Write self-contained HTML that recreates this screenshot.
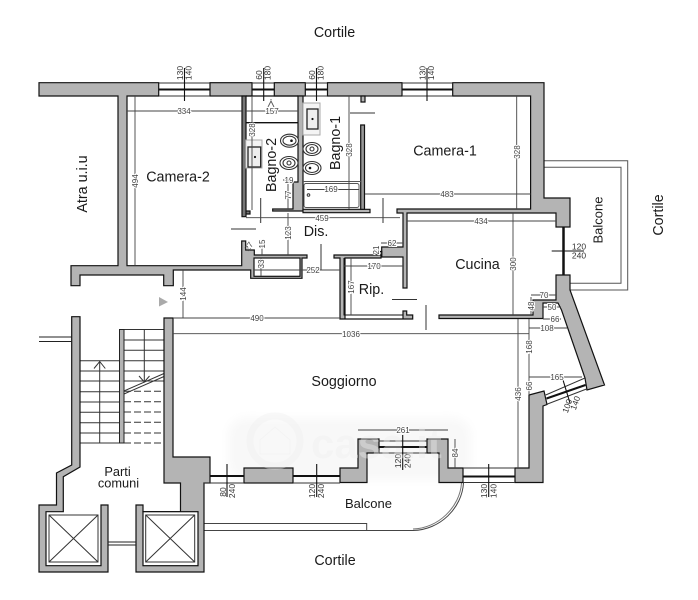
<!DOCTYPE html>
<html><head><meta charset="utf-8">
<style>
html,body{margin:0;padding:0;background:#fff}
svg{display:block;filter:blur(.35px)}
text{font-family:"Liberation Sans",sans-serif}
.l{font-size:14.3px;fill:#1a1a1a;text-anchor:middle}
.d{font-size:8px;fill:#444;text-anchor:middle;paint-order:stroke;stroke:#fff;stroke-width:2px}
.t{font-size:8.5px;fill:#333;text-anchor:middle}
.w{fill:#b4b4b4;stroke:#111;stroke-width:1.2}
.k{fill:none;stroke:#111;stroke-width:1.3}
.n{fill:none;stroke:#444;stroke-width:.9}
.g{fill:none;stroke:#555;stroke-width:.9}
.b{fill:none;stroke:#111;stroke-width:2}
.s{fill:none;stroke:#333;stroke-width:1}
</style></head><body>
<svg width="698" height="600" viewBox="0 0 698 600" xmlns="http://www.w3.org/2000/svg">
<defs><filter id="soft" x="-10%" y="-30%" width="120%" height="160%"><feGaussianBlur stdDeviation="5"/></filter></defs>
<rect width="698" height="600" fill="#fff"/>
<!-- watermark background -->
<rect x="228" y="418" width="243" height="62" rx="18" fill="#f8f8f8" filter="url(#soft)"/>

<!-- balcony right -->
<path d="M544 160.7H627.7V290H570M544 167.3H621V283.3H570" fill="none" stroke="#555" stroke-width="1"/>
<!-- balcony bottom -->
<path d="M204 523.5H366.7V530.5M204 530.5H366.7H413C440 530 462 508 463.500 483" fill="none" stroke="#444" stroke-width="1"/>
<path d="M413 529C438 528.500 460 507 461.500 483" fill="none" stroke="#777" stroke-width="1"/>

<!-- stairs -->
<g stroke="#333" stroke-width="1" fill="none">
<path d="M124 329.5H164M124 340H164M124 350.3H164M124 360.7H164M124 371H164M124 381H164"/>
<path d="M80 360.7H119M80 371H119M80 381H119M80 391.7H119M80 402H119M80 412.3H119M80 422.7H119M80 433H119M80 443H119"/>
<path d="M124 391.3H164M124 401.7H164M124 412H164M124 422.3H164M124 433H164M124 443H164" stroke-dasharray="7 3"/>
<path d="M144.3 329.5V382M99.7 360.7V443M94 368.5L99.7 361.5L105.3 368.5M139 376L144.3 382L149.5 376"/>
<path d="M124 391L164 373.5M124 394L164 376.5"/>
</g>
<rect x="119.5" y="329.5" width="4.5" height="113.5" fill="#b4b4b4" stroke="#222"/>

<!-- outer stair wall / elevator 1 -->
<path class="w" d="M71.7 316.7H80V467L63.3 476.7V511.7H46V565.7H101V505H108V572H39V505H56.5V473L71.7 465Z"/>
<path d="M39 337H71.5M39 341.5H71.5" stroke="#222" stroke-width="1.1"/>
<rect x="49" y="515" width="49" height="47" class="s"/>
<path d="M49 515L98 562M98 515L49 562" class="s"/>
<!-- elevator 2 / block -->
<path class="w" d="M164 318H173V457H210V483H204V572H136V505H143V511.7H180.5V483H164Z"/>
<rect x="143" y="511.7" width="55" height="54" fill="#fff" stroke="#111" stroke-width="1.2"/>
<rect x="145.7" y="515" width="49" height="47" class="s"/>
<path d="M145.7 515L194.7 562M194.7 515L145.7 562" class="s"/>
<path d="M108 542H136M108 545H136" stroke="#222" stroke-width="1.1"/>

<!-- top wall -->
<path class="w" d="M39 82.7H158.7V96H127V265.7H241.7V241H245.7V250H254.3V255H307V258H302V278.3H250.7V270H173.3V285.7H163.7V275H80V285.7H71V265.7H118V96H39Z"/>
<rect x="254" y="258" width="46" height="18.3" fill="#fff" stroke="#111" stroke-width="1.2"/>
<rect x="210" y="82.7" width="42" height="13.3" class="w"/>
<rect x="274.3" y="82.7" width="31" height="13.3" class="w"/>
<rect x="327.5" y="82.7" width="74.5" height="13.3" class="w"/>
<path class="w" d="M452.7 82.7H544V198H570V227H556V213H407V288H403V257H381.7V247H403V213H397V209H530.6V96H452.7Z"/>
<path class="w" d="M376 256V251.5H381.7V256Z"/>
<!-- windows top -->
<g class="b"><path d="M159 89.5H210M252 89.5H274M305 89.5H327M402 89.5H452.7"/></g>
<path d="M159 83H210M159 96H210M252 83H274M252 96H274M305 83H327M305 96H327M402 83H452.7M402 96H452.7" stroke="#333" stroke-width=".9"/>

<!-- bath walls -->
<path class="w" style="fill:#777" d="M242 96H246V214H250V211H246V216.7H242Z"/>
<path class="w" d="M298 96H303V211H272.7V209H293V182H298Z"/>
<path class="w" d="M303 209.3H370V212.7H303Z"/>
<path class="w" style="fill:#999" d="M360.7 125H364.5V209.3H360.7Z"/>
<path class="k" d="M246 96H298M246 122.7H298"/>
<path class="w" d="M361 96H365V102H361Z"/>
<!-- bagno fixtures -->
<rect x="245.7" y="140" width="16.3" height="28" fill="#f4f4f4" stroke="#aaa"/>
<rect x="248" y="147" width="12.7" height="20" fill="#eee" stroke="#222" stroke-width="1.3"/>
<circle cx="255" cy="157" r="1.1" fill="#111"/>
<rect x="303" y="103" width="17" height="32" fill="#f4f4f4" stroke="#aaa"/>
<rect x="307" y="109" width="11" height="20" fill="#eee" stroke="#222" stroke-width="1.3"/>
<circle cx="312.5" cy="119" r="1.1" fill="#111"/>
<g fill="#fff" stroke="#333" stroke-width="1.1">
<ellipse cx="289.5" cy="140.7" rx="9" ry="6.5"/><ellipse cx="289.5" cy="140.7" rx="6.5" ry="4.5"/>
<ellipse cx="289" cy="163" rx="9" ry="6.5"/><ellipse cx="289" cy="163" rx="6" ry="4.5"/><circle cx="289" cy="163" r="2"/>
<ellipse cx="312" cy="149" rx="9" ry="6.5"/><ellipse cx="312" cy="149" rx="6" ry="4.5"/><circle cx="312" cy="149" r="2"/>
<ellipse cx="312" cy="168" rx="9" ry="6.5"/><ellipse cx="312" cy="168" rx="6.5" ry="4.5"/>
</g>
<circle cx="291.5" cy="140.7" r="1.3" fill="#111"/><circle cx="310" cy="168" r="1.3" fill="#111"/>
<path d="M303 181.5H361" stroke="#555"/>
<rect x="304" y="183.5" width="55" height="24" rx="2" fill="#fff" stroke="#555"/>
<circle cx="308.5" cy="195" r="1.3" fill="none" stroke="#333"/>
<path d="M268 107L271 101L274 107M271 100V99" class="g"/>

<!-- Rip walls -->
<path class="w" d="M334 255H381V258H345V319H403V311H406.7V315H412.7V319H340V258H334Z"/>
<path d="M344 258V315H403" fill="none" stroke="#111" stroke-width="1"/>

<!-- right wall diag + Cucina bottom -->
<path class="w" d="M556 275H570V290L604.5 385L587 390L585 378L561.5 310L558 303H543V318.5H439V315H533V300H556Z"/>
<path d="M563.5 227V275" stroke="#111" stroke-width="2.5"/>
<path class="w" d="M529 395L544 391L547 404.5L543 406V482.5H515V468H529Z"/>
<!-- diag window -->
<path d="M545.7 395L585 378M547.5 404L586.5 389" stroke="#333" stroke-width="1"/>
<path d="M546.5 398.5L585.5 385" stroke="#111" stroke-width="2"/>
<!-- bottom wall -->
<rect x="244" y="468" width="49" height="15" class="w"/>
<path class="w" d="M340 468H358V439H379V453H367V482.5H340Z"/>
<path class="w" d="M427 439H448V468H463V482.5H439V453H427Z"/>
<path class="b" d="M210 476H244M293 476H340M379 447H427M463 476.5H515"/>
<path d="M204 483H244M293 483H340M379 441H427M379 453H427M463 468H515M463 482.5H515" stroke="#333" stroke-width=".9"/>

<!-- door swings -->
<path d="M231 229H256M260.7 198V223M350 113H375M383 198V223M321 244V270M392 299.5H417M426 305V330" stroke="#333" stroke-width="1"/>

<!-- dimension lines -->
<g class="n">
<path d="M127 111H241.7M246 111H298M135 96V265.7M252 96V210M349 96V209M516.7 96V209M365 194H530.5M407 221H556M513 213V315M246 217.7H400"/>
<path d="M288 213V255M288 181V209M283 180H293M254 270H340M183 270V318M173 318H340M173 333.7H529M307 189.5H359"/>
<path d="M351 258V315M344 266H403M381 243H403M376 247V255M531 295H556M531 297V315M543 307H561M543 319H561M529 328H567M529 319V395M529 377H582M518 319V468M358 430H448M455 439V468M262 246V255M261 258V276"/>
</g>
<!-- window ticks -->
<g stroke="#111" stroke-width="1.1">
<path d="M184.5 68V101M263.7 68V101M316.5 68V101M427 68V101M551.7 251H584M227 464V497M316.7 464V497M402.7 435V470M488.7 464V497M563 380L570 403"/>
</g>

<!-- dimension text -->
<text class="d" x="184" y="114">334</text>
<text class="d" x="272" y="114">157</text>
<text class="d" transform="rotate(-90 138 181)" x="138" y="181">494</text>
<text class="d" transform="rotate(-90 255 130)" x="255" y="130">328</text>
<text class="d" transform="rotate(-90 352 150)" x="352" y="150">328</text>
<text class="d" transform="rotate(-90 520 152)" x="520" y="152">328</text>
<text class="d" x="447" y="197">483</text>
<text class="d" x="481" y="224">434</text>
<text class="d" transform="rotate(-90 516 264)" x="516" y="264">300</text>
<text class="d" x="322" y="221">459</text>
<text class="d" x="331" y="192">169</text>
<text class="d" transform="rotate(-90 291 233)" x="291" y="233">123</text>
<text class="d" transform="rotate(-90 291 195)" x="291" y="195">77</text>
<text class="d" x="289" y="183">19</text>
<text class="d" x="313" y="273">252</text>
<text class="d" transform="rotate(-90 186 294)" x="186" y="294">144</text>
<text class="d" x="257" y="321">490</text>
<text class="d" x="351" y="337">1036</text>
<text class="d" transform="rotate(-90 354 287)" x="354" y="287">167</text>
<text class="d" x="374" y="269">170</text>
<text class="d" x="392" y="246">62</text>
<text class="d" transform="rotate(-90 379 250)" x="379" y="250">21</text>
<text class="d" x="544" y="298">70</text>
<text class="d" transform="rotate(-90 534 306)" x="534" y="306">48</text>
<text class="d" x="552" y="310">50</text>
<text class="d" x="555" y="322">66</text>
<text class="d" x="547" y="331">108</text>
<text class="d" transform="rotate(-90 532 347)" x="532" y="347">168</text>
<text class="d" transform="rotate(-90 532 386)" x="532" y="386">66</text>
<text class="d" x="557" y="380">165</text>
<text class="d" transform="rotate(-90 521 394)" x="521" y="394">436</text>
<text class="d" x="403" y="433">261</text>
<text class="d" transform="rotate(-90 458 453)" x="458" y="453">84</text>
<text class="d" transform="rotate(-55 251 248)" x="251" y="248" style="stroke-width:0">27</text>
<text class="d" transform="rotate(-90 265 244)" x="265" y="244">15</text>
<text class="d" transform="rotate(-90 264 264)" x="264" y="264">33</text>

<!-- window text -->
<g class="t">
<text transform="translate(183 73) rotate(-90)" text-anchor="middle">130</text>
<text transform="translate(191.5 73) rotate(-90)" text-anchor="middle">140</text>
<text transform="translate(262 75) rotate(-90)" text-anchor="middle">60</text>
<text transform="translate(270.5 73) rotate(-90)" text-anchor="middle">180</text>
<text transform="translate(315 75) rotate(-90)" text-anchor="middle">60</text>
<text transform="translate(323.5 73) rotate(-90)" text-anchor="middle">180</text>
<text transform="translate(425.5 73) rotate(-90)" text-anchor="middle">130</text>
<text transform="translate(434 73) rotate(-90)" text-anchor="middle">140</text>
<text x="579" y="249.5">120</text>
<text x="579" y="258.5">240</text>
<text transform="translate(226 492) rotate(-90)" text-anchor="middle">80</text>
<text transform="translate(235 491) rotate(-90)" text-anchor="middle">240</text>
<text transform="translate(315 491) rotate(-90)" text-anchor="middle">120</text>
<text transform="translate(324 491) rotate(-90)" text-anchor="middle">240</text>
<text transform="translate(401 461) rotate(-90)" text-anchor="middle">120</text>
<text transform="translate(410.5 461) rotate(-90)" text-anchor="middle">240</text>
<text transform="translate(487 491) rotate(-90)" text-anchor="middle">130</text>
<text transform="translate(496.5 491) rotate(-90)" text-anchor="middle">140</text>
<text transform="translate(570 407) rotate(-70)" text-anchor="middle">100</text>
<text transform="translate(578 404) rotate(-70)" text-anchor="middle">140</text>
</g>

<!-- triangle -->
<path d="M159 297L168 302L159 306.5Z" fill="#aaa"/>

<!-- room labels -->
<text class="l" x="178" y="181.5">Camera-2</text>
<text class="l" x="445" y="155.5">Camera-1</text>
<text class="l" transform="translate(276 165) rotate(-90)">Bagno-2</text>
<text class="l" transform="translate(340 143) rotate(-90)">Bagno-1</text>
<text class="l" x="316" y="236">Dis.</text>
<text class="l" x="371.5" y="294">Rip.</text>
<text class="l" x="477.5" y="269">Cucina</text>
<text class="l" x="344" y="386">Soggiorno</text>
<text class="l" style="font-size:13px" x="368.5" y="508">Balcone</text>
<text class="l" style="font-size:13px" transform="translate(602.5 220) rotate(-90)">Balcone</text>
<text class="l" transform="translate(663 215) rotate(-90)">Cortile</text>
<text class="l" x="334.5" y="37">Cortile</text>
<text class="l" x="335" y="565">Cortile</text>
<text class="l" transform="translate(87 184) rotate(-90)">Atra u.i.u</text>
<text class="l" style="font-size:12.8px" x="117.5" y="476">Parti</text>
<text class="l" style="font-size:12.8px" x="118.5" y="487.7">comuni</text>

<!-- watermark overlay -->
<g opacity=".4">
<circle cx="275" cy="441" r="25" fill="none" stroke="#f0f0f0" stroke-width="7"/>
<path d="M260 440l15-13 15 13v14h-30z" fill="#fafafa" stroke="#eee"/>
<text x="311" y="458" font-size="42" font-weight="bold" fill="#f0f0f0">casa.it</text>
</g>
</svg>
</body></html>
